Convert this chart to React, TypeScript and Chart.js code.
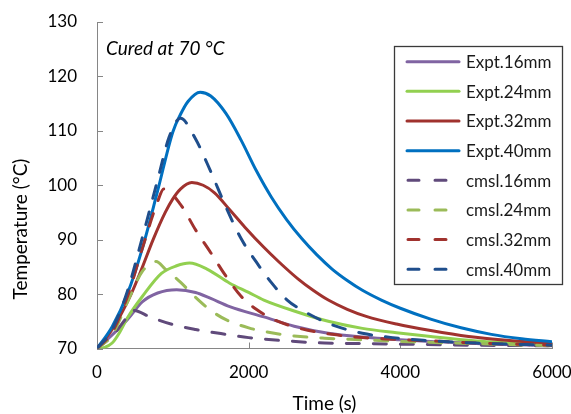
import { useEffect, useRef } from 'react';
import { Chart, registerables } from 'chart.js';

Chart.register(...registerables);

const FONT = 'Lato, "Open Sans", sans-serif';

// ---- data (time in s, temperature in °C) ----
const expt16T = [0, 200, 400, 600, 800, 1050, 1300, 1500, 1750, 2200, 2600, 3050, 3500, 4000, 4400, 5000, 6000];
const expt16V = [70, 72.5, 75.3, 78.6, 80.2, 80.8, 80.3, 79.2, 77.7, 75.8, 74.1, 72.8, 72.1, 71.6, 71.3, 70.9, 70.5];

const expt24T = [0, 100, 200, 300, 400, 600, 850, 1050, 1220, 1450, 1750, 2000, 2200, 2600, 3050, 3500, 3950, 4400, 5000, 5500, 6000];
const expt24V = [70, 70.2, 71, 73, 75.6, 79.6, 83.8, 85.2, 85.7, 84.6, 82.0, 80.3, 78.9, 76.9, 75.0, 73.7, 72.9, 72.2, 71.4, 71.0, 70.6];

const expt32T = [0, 200, 450, 600, 740, 900, 1000, 1100, 1250, 1400, 1550, 1750, 1950, 2200, 2400, 2650, 2850, 3050, 3300, 3550, 3950, 4400, 4900, 5400, 6000];
const expt32V = [70, 73.5, 80, 85, 90, 95, 97.5, 99.3, 100.5, 100.0, 98.6, 95.5, 92.3, 88.6, 85.9, 82.8, 80.7, 78.9, 77.2, 75.9, 74.5, 73.3, 72.2, 71.5, 70.9];

const expt40T = [0, 200, 400, 600, 800, 1000, 1100, 1200, 1360, 1500, 1700, 1900, 2100, 2300, 2500, 2700, 2900, 3100, 3300, 3500, 3750, 4000, 4400, 4800, 5200, 5600, 6000];
const expt40V = [70, 74, 80, 88.5, 99, 109.8, 113, 115.4, 117.1, 116.4, 113.2, 108.3, 102.7, 97.8, 93.7, 90.2, 87.2, 84.6, 82.5, 80.7, 78.9, 77.4, 75.4, 73.8, 72.6, 71.8, 71.25];

const cmsl16T = [0, 200, 400, 480, 700, 1000, 1300, 1700, 2000, 2500, 3000, 3500, 4000, 5000, 6000];
const cmsl16V = [70, 72.3, 75.8, 77, 75.8, 74.4, 73.5, 72.6, 72.0, 71.4, 71.0, 70.9, 70.8, 70.6, 70.5];

const cmsl24T = [0, 200, 400, 600, 780, 900, 1100, 1300, 1500, 1700, 2000, 2300, 2600, 3000, 3500, 4000, 5000, 6000];
const cmsl24V = [70, 72.5, 78.5, 84.2, 86, 84.6, 82.2, 79.4, 77.0, 75.3, 73.8, 72.9, 72.3, 71.9, 71.6, 71.3, 70.9, 70.5];

const cmsl32T = [0, 200, 400, 600, 800, 880, 1100, 1300, 1500, 1700, 1900, 2100, 2350, 2700, 3100, 3500, 3900, 4400, 5000, 6000];
const cmsl32V = [70, 73, 79.5, 88.5, 97, 99.3, 96.5, 91.8, 87.6, 83.3, 79.6, 77.2, 75.2, 73.6, 72.6, 72.0, 71.7, 71.4, 71.0, 70.6];

const cmsl40T = [0, 200, 400, 600, 800, 950, 1100, 1300, 1500, 1700, 1900, 2100, 2300, 2500, 2800, 3150, 3500, 3900, 4300, 5000, 6000];
const cmsl40V = [70, 73.5, 80.5, 90.5, 101, 108.8, 112.3, 108.5, 102.5, 96.0, 90.2, 85.9, 82.1, 79.0, 76.3, 74.1, 72.8, 72.0, 71.5, 71.0, 70.6];

const seriesLabels = ['Expt.16mm', 'Expt.24mm', 'Expt.32mm', 'Expt.40mm', 'cmsl.16mm', 'cmsl.24mm', 'cmsl.32mm', 'cmsl.40mm'];
const seriesTimes = [expt16T, expt24T, expt32T, expt40T, cmsl16T, cmsl24T, cmsl32T, cmsl40T];
const seriesValues = [expt16V, expt24V, expt32V, expt40V, cmsl16V, cmsl24V, cmsl32V, cmsl40V];
const seriesColors = ['#8064A2', '#92D050', '#A0322E', '#0070C0', '#604A7B', '#9BBB59', '#A0322E', '#1F4E8C'];
const seriesDashed = [false, false, false, false, true, true, true, true];

const xTickStep = 2000;
const yTickStep = 10;
const noteText = 'Cured at 70 °C';
const xTitle = 'Time (s)';
const yTitle = 'Temperature (°C)';

const AXIS_COLOR = '#868686';
const DASH = [13, 14];

const decorPlugin = {
  id: 'decor',
  beforeDatasetsDraw(chart: any) {
    const ctx = chart.ctx;
    const area = chart.chartArea;
    const xs = chart.scales.x;
    const ys = chart.scales.y;
    ctx.save();
    ctx.strokeStyle = AXIS_COLOR;
    ctx.lineWidth = 1;
    ys.ticks.forEach((t: any) => {
      const py = Math.round(ys.getPixelForValue(t.value)) + 0.5;
      ctx.beginPath();
      ctx.moveTo(area.left, py);
      ctx.lineTo(area.left + 6, py);
      ctx.stroke();
    });
    xs.ticks.forEach((t: any) => {
      const px = Math.round(xs.getPixelForValue(t.value)) + 0.5;
      ctx.beginPath();
      ctx.moveTo(px, area.bottom);
      ctx.lineTo(px, area.bottom - 6);
      ctx.stroke();
    });
    ctx.fillStyle = '#000';
    ctx.textBaseline = 'middle';
    ctx.textAlign = 'left';
    ctx.font = `italic 19px ${FONT}`;
    ctx.fillText(noteText, area.left + 9, 49);
    // axis titles
    ctx.font = `19px ${FONT}`;
    ctx.textAlign = 'center';
    ctx.fillText(xTitle, (area.left + area.right) / 2, 404);
    ctx.translate(21, 229);
    ctx.rotate(-Math.PI / 2);
    ctx.fillText(yTitle, 0, 0);
    ctx.restore();
  },
  afterDraw(chart: any) {
    const ctx = chart.ctx;
    const bx = 394.5, by = 46.5, bw = 168, bh = 238;
    ctx.save();
    ctx.fillStyle = '#fff';
    ctx.fillRect(bx, by, bw, bh);
    ctx.strokeStyle = '#3a3a3a';
    ctx.lineWidth = 1.3;
    ctx.strokeRect(bx, by, bw, bh);
    const rowH = 29.65;
    chart.data.datasets.forEach((ds: any, i: number) => {
      const cy = 61.7 + i * rowH;
      ctx.strokeStyle = ds.borderColor;
      ctx.lineWidth = 3;
      ctx.lineCap = 'round';
      if (seriesDashed[i]) {
        ctx.beginPath();
        ctx.moveTo(408, cy);
        ctx.lineTo(419, cy);
        ctx.moveTo(435, cy);
        ctx.lineTo(446, cy);
        ctx.stroke();
      } else {
        ctx.beginPath();
        ctx.moveTo(407, cy);
        ctx.lineTo(459, cy);
        ctx.stroke();
      }
      ctx.fillStyle = '#1a1a1a';
      ctx.font = `17px ${FONT}`;
      ctx.textBaseline = 'middle';
      ctx.textAlign = 'left';
      ctx.fillText(ds.label, 466, cy + 1);
    });
    ctx.restore();
  },
};

export default function App() {
  const ref = useRef<HTMLCanvasElement>(null);
  useEffect(() => {
    const datasets = seriesLabels.map((label, i) => ({
      label,
      data: seriesTimes[i].map((t, j) => ({ x: t, y: seriesValues[i][j] })),
      borderColor: seriesColors[i],
      backgroundColor: seriesColors[i],
      borderWidth: 3,
      borderDash: seriesDashed[i] ? DASH : [],
      borderCapStyle: 'round' as const,
      pointRadius: 0,
      fill: false,
      cubicInterpolationMode: 'monotone' as const,
      order: 7 - i,
    }));
    const chart = new Chart(ref.current!, {
      type: 'line',
      data: { datasets },
      options: {
        animation: false,
        responsive: false,
        maintainAspectRatio: false,
        layout: { autoPadding: false, padding: { left: 0, right: 19, top: 22, bottom: 0 } },
        plugins: { legend: { display: false }, tooltip: { enabled: false } },
        scales: {
          x: {
            type: 'linear',
            min: 0,
            max: 6000,
            ticks: {
              stepSize: xTickStep,
              color: '#000',
              font: { family: FONT, size: 17 },
              padding: 14,
              maxRotation: 0,
              callback: (v: any) => String(v),
            },
            grid: { drawOnChartArea: false, drawTicks: false },
            border: { display: true, color: AXIS_COLOR, width: 1 },
            title: { display: false, text: xTitle },
            afterFit: (s: any) => {
              s.height = 65.5;
              s.paddingLeft = 0;
              s.paddingRight = 0;
              s.paddingTop = 0;
              s.paddingBottom = 0;
            },
          },
          y: {
            type: 'linear',
            min: 70,
            max: 130,
            ticks: { stepSize: yTickStep, color: '#000', font: { family: FONT, size: 17 }, padding: 20 },
            grid: { drawOnChartArea: false, drawTicks: false },
            border: { display: true, color: AXIS_COLOR, width: 1 },
            title: { display: false, text: yTitle },
            afterFit: (s: any) => {
              s.width = 97;
              s.paddingLeft = 0;
              s.paddingRight = 0;
              s.paddingTop = 0;
              s.paddingBottom = 0;
            },
          },
        },
      },
      plugins: [decorPlugin],
    });
    return () => chart.destroy();
  }, []);
  return (
    <div style={{ position: 'absolute', left: 0, top: 0, width: 571, height: 414, background: '#fff' }}>
      <canvas ref={ref} width={571} height={414} style={{ display: 'block' }} />
    </div>
  );
}
